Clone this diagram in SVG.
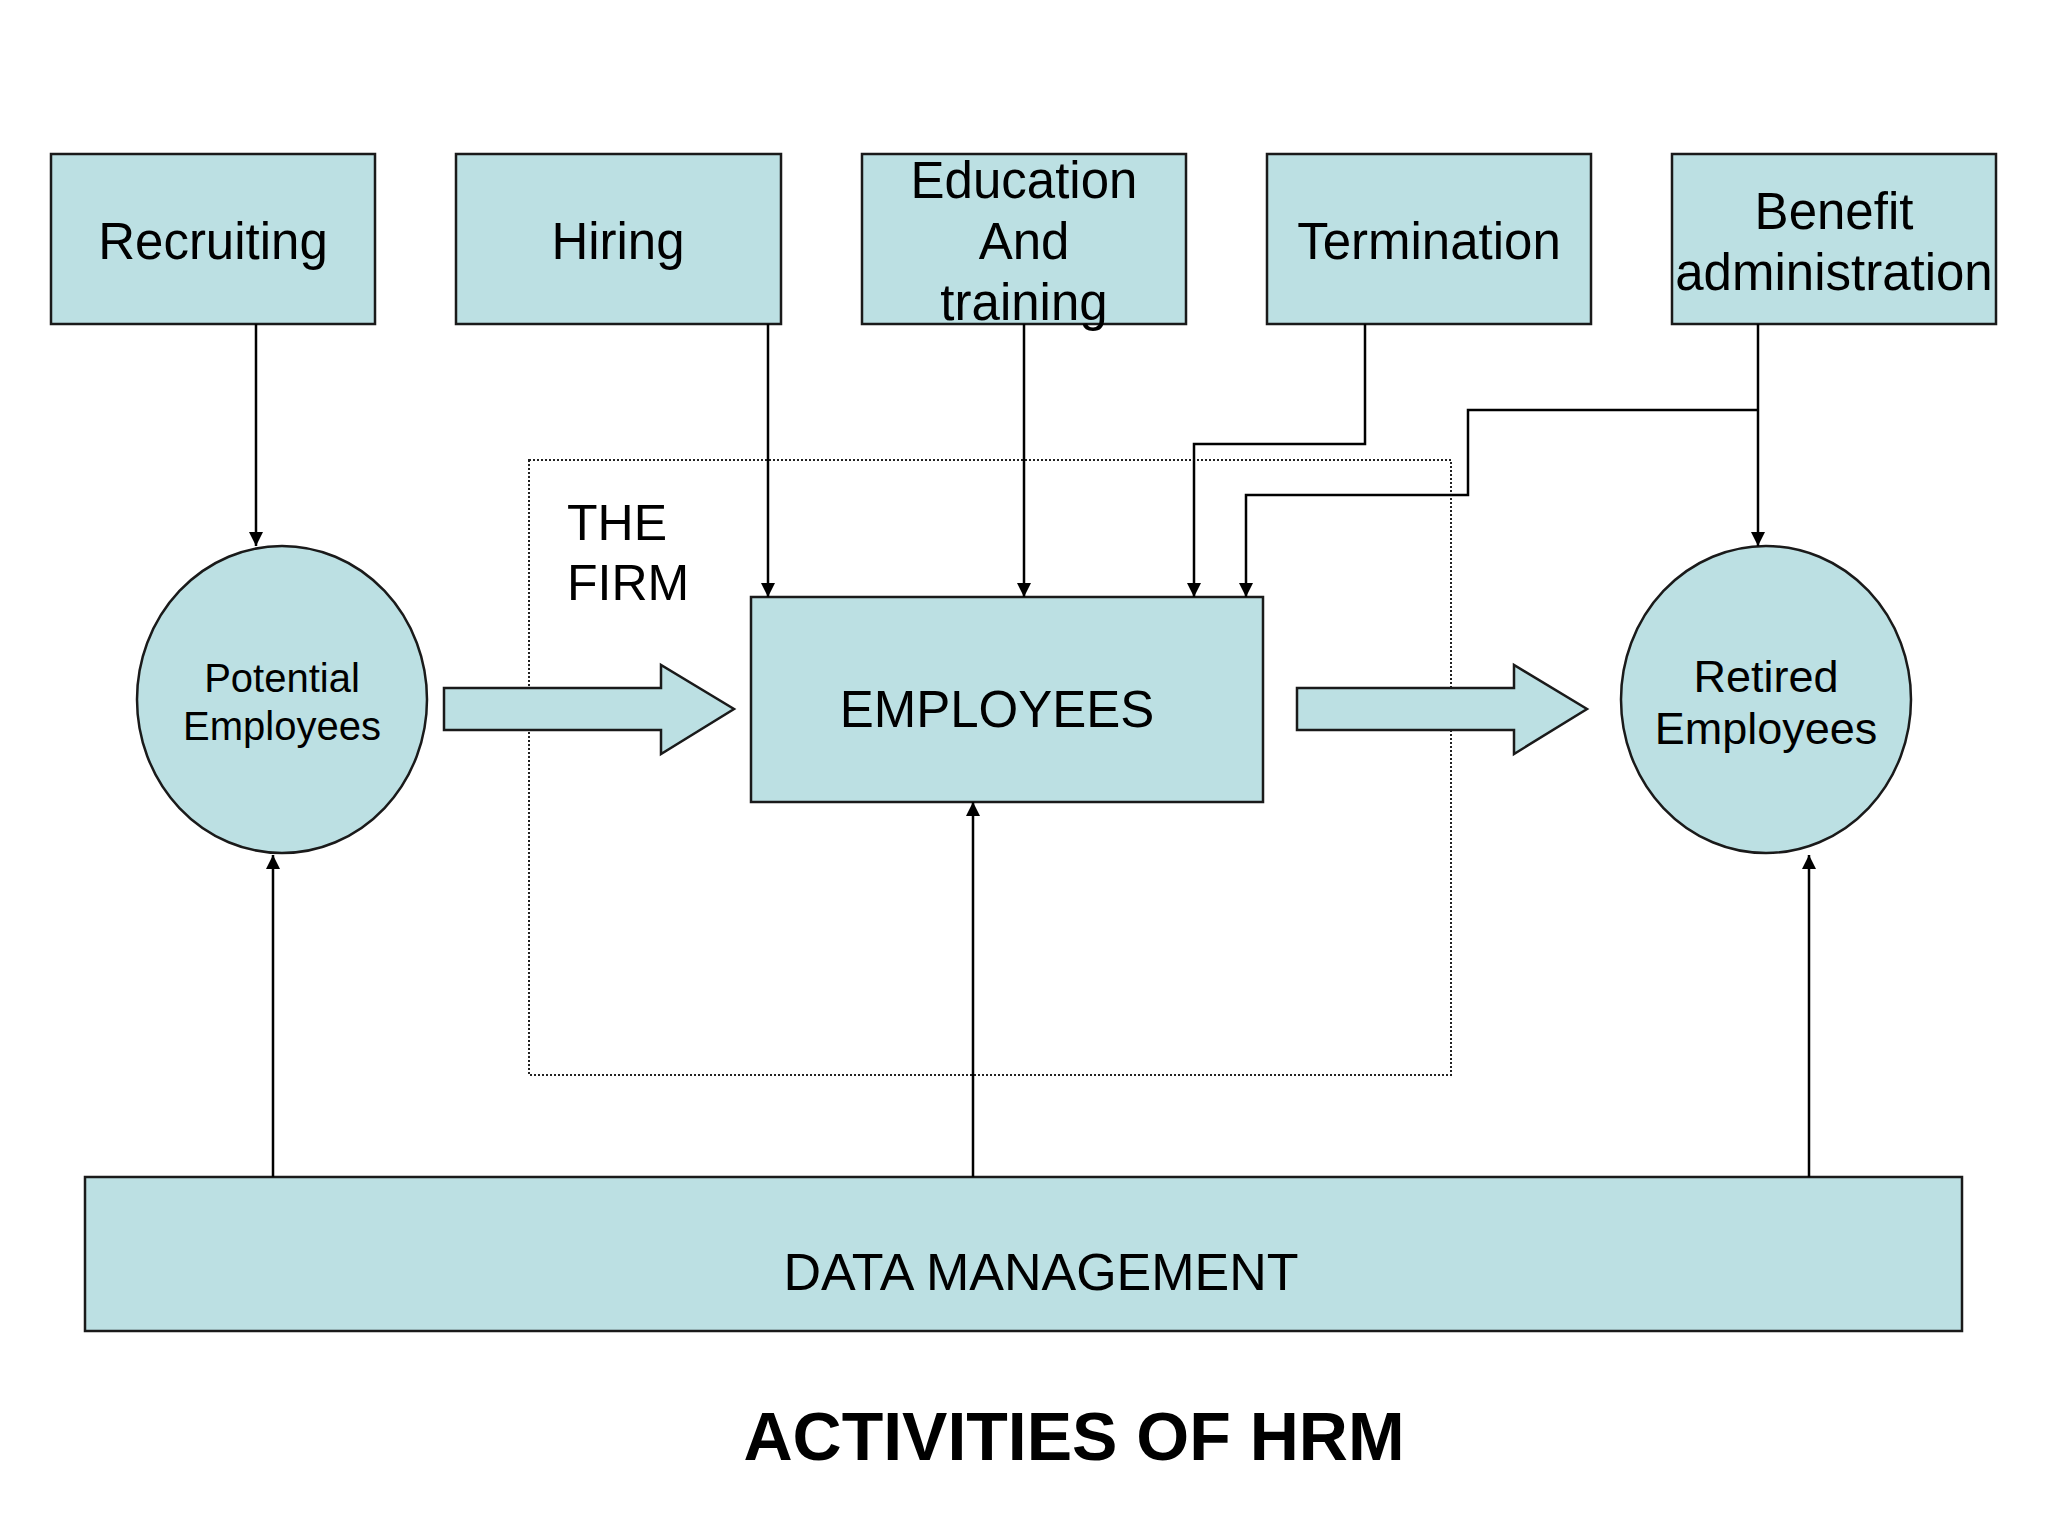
<svg xmlns="http://www.w3.org/2000/svg" width="2048" height="1536" viewBox="0 0 2048 1536">
<defs>
<marker id="ah" viewBox="0 0 14 18" refX="14" refY="9" markerWidth="14" markerHeight="18" markerUnits="userSpaceOnUse" orient="auto">
<path d="M0,2 L14,9 L0,16 Z" fill="#000"/>
</marker>
<style>
.box{fill:#BCE0E3;stroke:#1a1a1a;stroke-width:2.5}
.t{font-family:"Liberation Sans",Arial,sans-serif;fill:#000;text-anchor:middle}
.c{fill:none;stroke:#000;stroke-width:2.5}
</style>
</defs>
<rect width="2048" height="1536" fill="#fff"/>
<g id="firm">
<rect x="529" y="460" width="922" height="615" fill="none" stroke="#222" stroke-width="2" stroke-dasharray="2,2"/>
<text class="t" x="567" y="540" font-size="50" style="text-anchor:start">THE</text>
<text class="t" x="567" y="600" font-size="50" style="text-anchor:start">FIRM</text>
</g>
<g id="recruiting">
<rect class="box" x="51" y="154" width="324" height="170"/>
<text class="t" x="213" y="259" font-size="51">Recruiting</text>
</g>
<g id="hiring">
<rect class="box" x="456" y="154" width="325" height="170"/>
<text class="t" x="618" y="259" font-size="51">Hiring</text>
</g>
<g id="education">
<rect class="box" x="862" y="154" width="324" height="170"/>
<text class="t" x="1024" y="198" font-size="51">Education</text>
<text class="t" x="1024" y="259" font-size="51">And</text>
<text class="t" x="1024" y="320" font-size="51">training</text>
</g>
<g id="termination">
<rect class="box" x="1267" y="154" width="324" height="170"/>
<text class="t" x="1429" y="259" font-size="51">Termination</text>
</g>
<g id="benefit">
<rect class="box" x="1672" y="154" width="324" height="170"/>
<text class="t" x="1834" y="229" font-size="51">Benefit</text>
<text class="t" x="1834" y="290" font-size="51">administration</text>
</g>
<g id="potential">
<ellipse class="box" cx="282" cy="699.5" rx="145" ry="153.5"/>
<text class="t" x="282" y="692" font-size="40">Potential</text>
<text class="t" x="282" y="740" font-size="40">Employees</text>
</g>
<g id="retired">
<ellipse class="box" cx="1766" cy="699.5" rx="145" ry="153.5"/>
<text class="t" x="1766" y="692" font-size="45">Retired</text>
<text class="t" x="1766" y="744" font-size="45">Employees</text>
</g>
<g id="employees">
<rect class="box" x="751" y="597" width="512" height="205"/>
<text class="t" x="997" y="727" font-size="51">EMPLOYEES</text>
</g>
<g id="data">
<rect class="box" x="85" y="1177" width="1877" height="154"/>
<text class="t" x="1041" y="1290" font-size="52">DATA MANAGEMENT</text>
</g>
<g id="flow-in">
<path class="box" d="M444,688 L661,688 L661,665 L734,709 L661,754 L661,730 L444,730 Z"/>
</g>
<g id="flow-out">
<path class="box" d="M1297,688 L1514,688 L1514,665 L1587,709 L1514,754 L1514,730 L1297,730 Z"/>
</g>
<g id="connectors">
<path class="c" d="M256,324 V546" marker-end="url(#ah)"/>
<path class="c" d="M768,324 V597" marker-end="url(#ah)"/>
<path class="c" d="M1024,324 V597" marker-end="url(#ah)"/>
<path class="c" d="M1365,324 V444 H1194 V597" marker-end="url(#ah)"/>
<path class="c" d="M1758,324 V546" marker-end="url(#ah)"/>
<path class="c" d="M1758,410 H1468 V495 H1246 V597" marker-end="url(#ah)"/>
<path class="c" d="M273,1177 V855" marker-end="url(#ah)"/>
<path class="c" d="M973,1177 V802" marker-end="url(#ah)"/>
<path class="c" d="M1809,1177 V855" marker-end="url(#ah)"/>
</g>
<g id="title">
<text class="t" x="1074" y="1460" font-size="68" font-weight="bold">ACTIVITIES OF HRM</text>
</g>
</svg>
